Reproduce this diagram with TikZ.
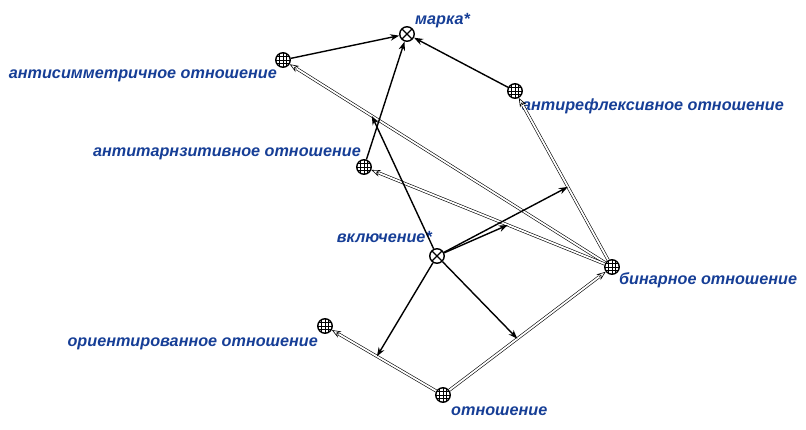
\documentclass[tikz,border=0pt]{standalone}
\usepackage{fontspec}
\setmainfont{Liberation Sans}
\usetikzlibrary{arrows.meta,calc}
\definecolor{lbl}{RGB}{22,62,150}
\begin{document}
\begin{tikzpicture}[x=1pt,y=-1pt,
  gnode/.style={circle,draw,line width=1.4pt,minimum size=14.5pt,inner sep=0pt,fill=white,
    path picture={\foreach \k in {-3.6,0,3.6}{
      \draw[line width=0.6pt] ([xshift=\k pt]path picture bounding box.north) -- ([xshift=\k pt]path picture bounding box.south);
      \draw[line width=0.6pt] ([yshift=\k pt]path picture bounding box.west) -- ([yshift=\k pt]path picture bounding box.east);}}},
  cnode/.style={circle,draw,line width=1.4pt,minimum size=14.5pt,inner sep=0pt,fill=white,
    path picture={\draw[line width=1.3pt] (path picture bounding box.north west) -- (path picture bounding box.south east)
      (path picture bounding box.north east) -- (path picture bounding box.south west);}},
  lab/.style={text=lbl,font=\fontsize{16.2}{19}\selectfont\bfseries\itshape,inner sep=0pt},
  arr/.style={line width=1.4pt,-{Stealth[length=9pt,width=6.5pt]}},
  dbltip/.style={line width=0.6pt,-{Stealth[open,length=9pt,width=7pt,fill=white]}},
  dblline/.style={double,double distance=1.8pt,line width=0.6pt,shorten >=8pt}
]
\useasboundingbox (0,0) rectangle (806,430);

% nodes
\node[cnode] (marka) at (407,34) {};
\node[gnode] (antisym) at (283,60) {};
\node[gnode] (antirefl) at (515,91) {};
\node[gnode] (antitranz) at (364,167) {};
\node[cnode] (vkl) at (437,256) {};
\node[gnode] (binary) at (612,267) {};
\node[gnode] (orient) at (325,326) {};
\node[gnode] (otnosh) at (443,395) {};

% labels
\node[lab,anchor=base west] (lmarka) at (415,25) {марка*};
\node[lab,anchor=base east] (lantisym) at (277,79) {антисимметричное отношение};
\node[lab,anchor=base west] (lantirefl) at (522,111) {антирефлексивное отношение};
\node[lab,anchor=base east] (lantitranz) at (361,157) {антитарнзитивное отношение};
\node[lab,anchor=base east] (lvkl) at (432,243) {включение*};
\node[lab,anchor=base west] (lbinary) at (619,285) {бинарное отношение};
\node[lab,anchor=base east] (lorient) at (318,347) {ориентированное отношение};
\node[lab,anchor=base west] (lotnosh) at (451,415) {отношение};

% double (subset) arcs
\foreach \a/\b in {binary/antisym,binary/antitranz,binary/antirefl,otnosh/orient,otnosh/binary}{
  \draw[dbltip] (\a) -- (\b);
  \draw[dblline] (\a) -- (\b);
}

% points on arcs
\coordinate (m1) at ($(binary)!0.73!(antisym)$);
\coordinate (m2) at ($(binary)!0.42!(antitranz)$);
\coordinate (m3) at ($(binary)!0.455!(antirefl)$);
\coordinate (m4) at ($(otnosh)!0.56!(orient)$);
\coordinate (m5) at ($(otnosh)!0.44!(binary)$);

% black arcs
\draw[arr] (antisym) -- (marka);
\draw[arr] (antitranz) -- (marka);
\draw[arr] (antirefl) -- (marka);
\draw[arr] (vkl) -- (m1);
\draw[arr] (vkl) -- (m2);
\draw[arr] (vkl) -- (m3);
\draw[arr] (vkl) -- (m4);
\draw[arr] (vkl) -- (m5);
\end{tikzpicture}
\end{document}
